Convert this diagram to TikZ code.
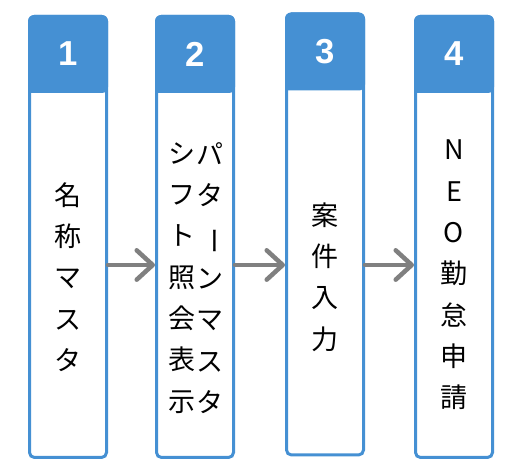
\documentclass[tikz,border=0pt]{standalone}
\usepackage{fontspec}
\setsansfont{Liberation Sans}
\newfontfamily\cjk{Noto Sans CJK JP}
\usetikzlibrary{arrows.meta}
\definecolor{stepblue}{HTML}{4590D3}
\definecolor{flowgray}{HTML}{808080}
\newcommand{\vbar}{\rotatebox[origin=c]{-90}{ー}}
\tikzset{
  colbox/.style={draw=stepblue, line width=2.25pt, rounded corners=3.75pt,
    minimum width=57.75pt, minimum height=330.75pt, inner sep=0pt},
  num/.style={text=white, font=\sffamily\bfseries\fontsize{26}{26}\selectfont},
  coltext/.style={font=\cjk\fontsize{20.25}{31}\selectfont, align=center, inner sep=0pt},
  flow/.style={draw=flowgray, line width=3.4pt, line cap=round,
    -{Straight Barb[length=12pt,width=22pt,round]}}
}
\begin{document}
\begin{tikzpicture}[x=0.75pt,y=-0.75pt]
  \useasboundingbox (0,0) rectangle (532,473);
  %columns
  \node[colbox] (c1) at (68,237) {};
  \node[colbox] (c2) at (195,237) {};
  \node[colbox] (c3) at (325,234.5) {};
  \node[colbox] (c4) at (454,237) {};
  %headers
  \foreach \c/\n in {c1/1,c2/2,c3/3,c4/4}{
    \fill[stepblue] ([yshift=-58.5pt]\c.north west) [rounded corners=4.5pt] -- (\c.north west)
      -- (\c.north east) -- ([yshift=-58.5pt]\c.north east) [sharp corners] -- cycle;
    \node[num] (h\n) at ([yshift=-29.25pt]\c.north) {\n};
  }
  %texts
  \node[coltext] (t1) at (68,277) {名\\称\\マ\\ス\\タ};
  \node[coltext] (t2a) at (210,278) {パ\\タ\\\vbar\\ン\\マ\\ス\\タ};
  \node[coltext] (t2b) at (182,278) {シ\\フ\\ト\\照\\会\\表\\示};
  \node[coltext] (t3) at (325,277) {案\\件\\入\\力};
  \node[coltext] (t4) at (454,275) {N\\E\\O\\勤\\怠\\申\\請};
  %arrows
  \draw[flow] (c1.east |- 0,265) -- (c2.west |- 0,265);
  \draw[flow] (c2.east |- 0,265) -- (c3.west |- 0,265);
  \draw[flow] (c3.east |- 0,265) -- (c4.west |- 0,265);
\end{tikzpicture}
\end{document}
